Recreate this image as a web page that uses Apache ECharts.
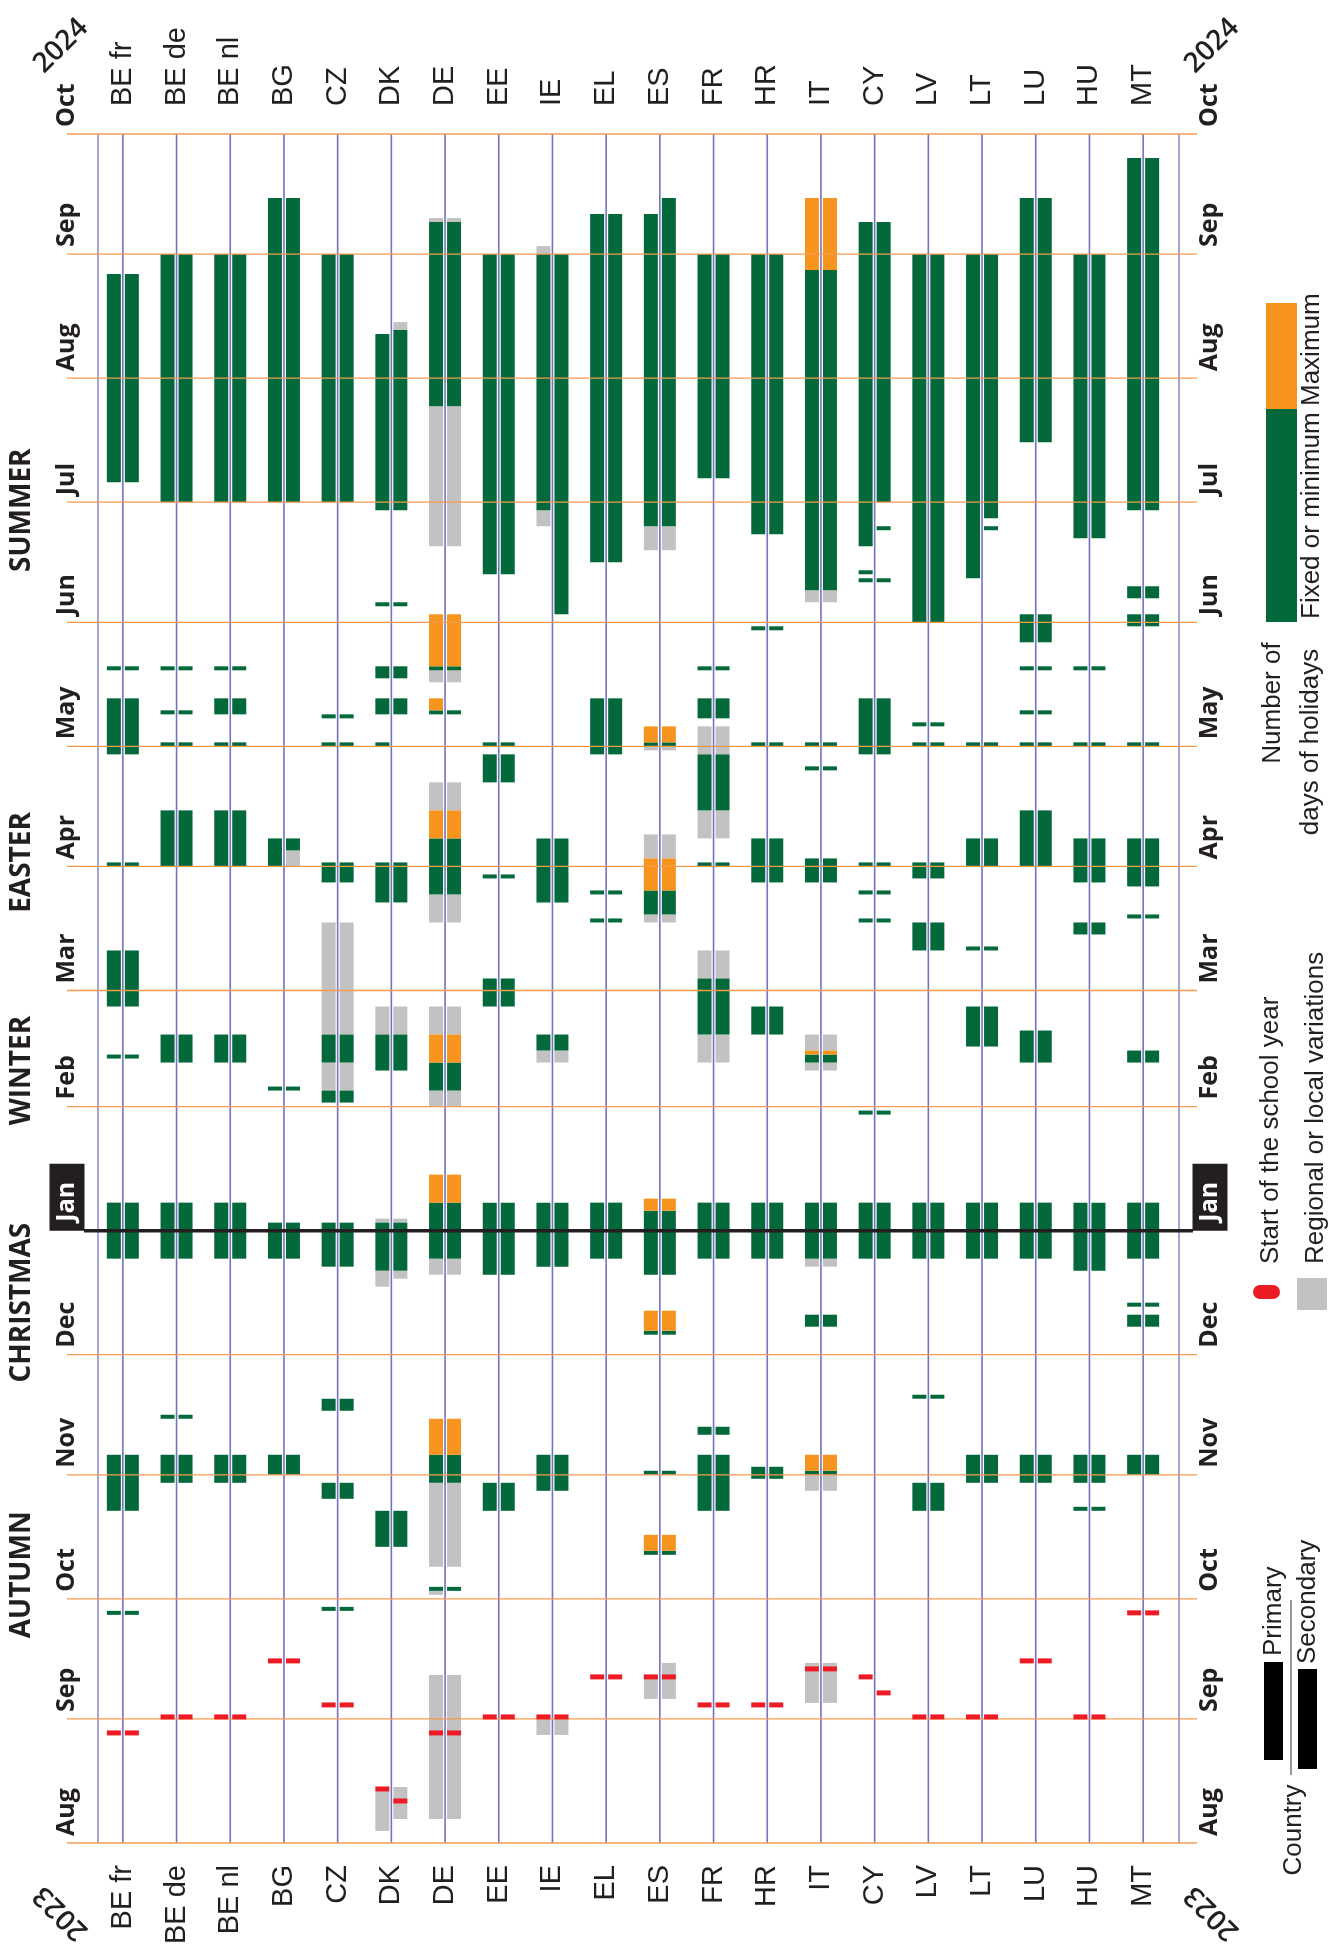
<!DOCTYPE html>
<html><head><meta charset="utf-8">
<script src="https://cdn.jsdelivr.net/npm/echarts@6/dist/echarts.min.js"></script>
<style>html,body{margin:0;padding:0;background:#fff}#chart{width:1341px;height:1948px}</style>
</head><body><div id="chart"></div>
<script>
// ---------- DATA ----------
const countries = ['BE fr','BE de','BE nl','BG','CZ','DK','DE','EE','IE','EL','ES','FR','HR','IT','CY','LV','LT','LU','HU','MT'];
const monthStarts = ['2023-08-01','2023-09-01','2023-10-01','2023-11-01','2023-12-01','2024-01-01','2024-02-01','2024-03-01','2024-04-01','2024-05-01','2024-06-01','2024-07-01','2024-08-01','2024-09-01','2024-10-01'];
const monthLabels = ['Aug','Sep','Oct','Nov','Dec','Jan','Feb','Mar','Apr','May','Jun','Jul','Aug','Sep','Oct'];
const seasonLabels = ['AUTUMN','CHRISTMAS','WINTER','EASTER','SUMMER'];
const seasonCentres = ['2023-10-07','2023-12-14','2024-02-10','2024-04-02','2024-06-29'];
const yearLabels = ['2023','2024'];
const yearDates = ['2023-08-01','2024-10-01'];

// [country, level (P = primary, S = secondary, B = both), first day, last day]
const fixedDays = [
 ['BE fr','B','2023-09-27'],['BE fr','B','2023-10-23','2023-11-05'],['BE fr','B','2023-12-25','2024-01-07'],['BE fr','B','2024-02-13'],['BE fr','B','2024-02-26','2024-03-10'],['BE fr','B','2024-04-01'],['BE fr','B','2024-04-29','2024-05-12'],['BE fr','B','2024-05-20'],['BE fr','B','2024-07-06','2024-08-26'],
 ['BE de','B','2023-10-30','2023-11-05'],['BE de','B','2023-11-15'],['BE de','B','2023-12-25','2024-01-07'],['BE de','B','2024-02-12','2024-02-18'],['BE de','B','2024-04-01','2024-04-14'],['BE de','B','2024-05-01'],['BE de','B','2024-05-09'],['BE de','B','2024-05-20'],['BE de','B','2024-07-01','2024-08-31'],
 ['BE nl','B','2023-10-30','2023-11-05'],['BE nl','B','2023-12-25','2024-01-07'],['BE nl','B','2024-02-12','2024-02-18'],['BE nl','B','2024-04-01','2024-04-14'],['BE nl','B','2024-05-01'],['BE nl','B','2024-05-09','2024-05-12'],['BE nl','B','2024-05-20'],['BE nl','B','2024-07-01','2024-08-31'],
 ['BG','B','2023-11-01','2023-11-05'],['BG','B','2023-12-25','2024-01-02'],['BG','B','2024-02-05'],['BG','P','2024-04-01','2024-04-07'],['BG','S','2024-04-05','2024-04-07'],['BG','B','2024-07-01','2024-09-14'],
 ['CZ','B','2023-09-28'],['CZ','B','2023-10-26','2023-10-29'],['CZ','B','2023-11-17','2023-11-19'],['CZ','B','2023-12-23','2024-01-02'],['CZ','B','2024-02-02','2024-02-04'],['CZ','B','2024-02-12','2024-02-18'],['CZ','B','2024-03-28','2024-04-01'],['CZ','B','2024-05-01'],['CZ','B','2024-05-08'],['CZ','B','2024-07-01','2024-08-31'],
 ['DK','B','2023-10-14','2023-10-22'],['DK','B','2023-12-22','2024-01-02'],['DK','B','2024-02-10','2024-02-18'],['DK','B','2024-03-23','2024-04-01'],['DK','P','2024-05-01'],['DK','B','2024-05-09','2024-05-12'],['DK','B','2024-05-18','2024-05-20'],['DK','B','2024-06-05'],['DK','P','2024-06-29','2024-08-11'],['DK','S','2024-06-29','2024-08-12'],
 ['DE','B','2023-10-03'],['DE','B','2023-10-30','2023-11-05'],['DE','B','2023-12-25','2024-01-07'],['DE','B','2024-02-05','2024-02-11'],['DE','B','2024-03-25','2024-04-07'],['DE','B','2024-05-09'],['DE','B','2024-05-20'],['DE','B','2024-07-25','2024-09-08'],
 ['EE','B','2023-10-23','2023-10-29'],['EE','B','2023-12-21','2024-01-07'],['EE','B','2024-02-26','2024-03-03'],['EE','B','2024-03-29'],['EE','B','2024-04-22','2024-04-28'],['EE','B','2024-05-01'],['EE','B','2024-06-13','2024-08-31'],
 ['IE','B','2023-10-28','2023-11-05'],['IE','B','2023-12-23','2024-01-07'],['IE','B','2024-02-15','2024-02-18'],['IE','B','2024-03-23','2024-04-07'],['IE','P','2024-06-29','2024-08-31'],['IE','S','2024-06-03','2024-08-31'],
 ['EL','B','2023-12-25','2024-01-07'],['EL','B','2024-03-18'],['EL','B','2024-03-25'],['EL','B','2024-04-29','2024-05-12'],['EL','B','2024-06-16','2024-09-10'],
 ['ES','B','2023-10-12'],['ES','B','2023-11-01'],['ES','B','2023-12-06'],['ES','B','2023-12-21','2024-01-05'],['ES','B','2024-03-20','2024-03-25'],['ES','B','2024-05-01'],['ES','P','2024-06-25','2024-09-10'],['ES','S','2024-06-25','2024-09-14'],
 ['FR','B','2023-10-23','2023-11-05'],['FR','B','2023-11-11','2023-11-12'],['FR','B','2023-12-25','2024-01-07'],['FR','B','2024-02-19','2024-03-03'],['FR','B','2024-04-01'],['FR','B','2024-04-15','2024-04-28'],['FR','B','2024-05-08','2024-05-12'],['FR','B','2024-05-20'],['FR','B','2024-07-07','2024-08-31'],
 ['HR','B','2023-10-31','2023-11-02'],['HR','B','2023-12-25','2024-01-07'],['HR','B','2024-02-19','2024-02-25'],['HR','B','2024-03-28','2024-04-07'],['HR','B','2024-05-01'],['HR','B','2024-05-30'],['HR','B','2024-06-23','2024-08-31'],
 ['IT','B','2023-11-01'],['IT','B','2023-12-08','2023-12-10'],['IT','B','2023-12-25','2024-01-07'],['IT','B','2024-02-12','2024-02-13'],['IT','B','2024-03-28','2024-04-02'],['IT','B','2024-04-25'],['IT','B','2024-05-01'],['IT','B','2024-06-09','2024-08-27'],
 ['CY','B','2023-12-25','2024-01-07'],['CY','B','2024-01-30'],['CY','B','2024-03-18'],['CY','B','2024-03-25'],['CY','B','2024-04-01'],['CY','B','2024-04-29','2024-05-12'],['CY','P','2024-06-11'],['CY','P','2024-06-13'],['CY','S','2024-06-11'],['CY','S','2024-06-24'],['CY','P','2024-06-20','2024-09-08'],['CY','S','2024-07-01','2024-09-08'],
 ['LV','B','2023-10-23','2023-10-29'],['LV','B','2023-11-20'],['LV','B','2023-12-25','2024-01-07'],['LV','B','2024-03-11','2024-03-17'],['LV','B','2024-03-29','2024-04-01'],['LV','B','2024-05-01'],['LV','B','2024-05-06'],['LV','B','2024-06-01','2024-08-31'],
 ['LT','B','2023-10-30','2023-11-05'],['LT','B','2023-12-25','2024-01-07'],['LT','B','2024-02-16','2024-02-25'],['LT','B','2024-03-11'],['LT','B','2024-04-01','2024-04-07'],['LT','B','2024-05-01'],['LT','P','2024-06-12','2024-08-31'],['LT','S','2024-06-24'],['LT','S','2024-06-27','2024-08-31'],
 ['LU','B','2023-10-30','2023-11-05'],['LU','B','2023-12-25','2024-01-07'],['LU','B','2024-02-12','2024-02-19'],['LU','B','2024-04-01','2024-04-14'],['LU','B','2024-05-01'],['LU','B','2024-05-09'],['LU','B','2024-05-20'],['LU','B','2024-05-27','2024-06-02'],['LU','B','2024-07-16','2024-09-14'],
 ['HU','B','2023-10-23'],['HU','B','2023-10-30','2023-11-05'],['HU','B','2023-12-22','2024-01-07'],['HU','B','2024-03-15','2024-03-17'],['HU','B','2024-03-28','2024-04-07'],['HU','B','2024-05-01'],['HU','B','2024-05-20'],['HU','B','2024-06-22','2024-08-31'],
 ['MT','B','2023-11-01','2023-11-05'],['MT','B','2023-12-08','2023-12-10'],['MT','B','2023-12-13'],['MT','B','2023-12-25','2024-01-07'],['MT','B','2024-02-12','2024-02-14'],['MT','B','2024-03-19'],['MT','B','2024-03-27','2024-04-07'],['MT','B','2024-05-01'],['MT','B','2024-05-31','2024-06-02'],['MT','B','2024-06-07','2024-06-09'],['MT','B','2024-06-29','2024-09-24']
];
const maximumDays = [
 ['DE','B','2023-11-06','2023-11-14'],['DE','B','2024-01-08','2024-01-14'],['DE','B','2024-02-12','2024-02-18'],['DE','B','2024-04-08','2024-04-14'],['DE','P','2024-05-10','2024-05-12'],['DE','B','2024-05-21','2024-06-02'],
 ['ES','B','2023-10-13','2023-10-16'],['ES','B','2023-12-07','2023-12-11'],['ES','B','2024-01-06','2024-01-08'],['ES','B','2024-03-26','2024-04-02'],['ES','B','2024-05-02','2024-05-05'],
 ['IT','B','2023-11-02','2023-11-05'],['IT','B','2024-02-14'],['IT','B','2024-08-28','2024-09-14']
];
const regionalDays = [
 ['BG','S','2024-04-01','2024-04-04'],
 ['CZ','B','2024-02-05','2024-02-11'],['CZ','B','2024-02-19','2024-03-17'],
 ['DK','P','2023-08-04','2023-08-13'],['DK','S','2023-08-07','2023-08-14'],['DK','P','2023-12-18','2023-12-21'],['DK','S','2023-12-20','2023-12-21'],['DK','B','2024-01-03'],['DK','B','2024-02-19','2024-02-25'],['DK','S','2024-08-13','2024-08-14'],
 ['DE','B','2023-08-07','2023-09-11'],['DE','P','2023-10-02'],['DE','B','2023-10-09','2023-10-29'],['DE','B','2023-12-21','2023-12-24'],['DE','B','2024-02-01','2024-02-04'],['DE','B','2024-02-19','2024-02-25'],['DE','B','2024-03-18','2024-03-24'],['DE','B','2024-04-15','2024-04-21'],['DE','B','2024-05-17','2024-05-19'],['DE','B','2024-06-20','2024-07-24'],['DE','B','2024-09-09'],
 ['IE','B','2023-08-28','2023-09-01'],['IE','B','2024-02-12','2024-02-14'],['IE','P','2024-06-25','2024-06-28'],['IE','P','2024-09-01','2024-09-02'],
 ['ES','P','2023-09-06','2023-09-11'],['ES','S','2023-09-06','2023-09-14'],['ES','B','2024-03-18','2024-03-19'],['ES','B','2024-04-03','2024-04-08'],['ES','B','2024-04-30'],['ES','B','2024-06-19','2024-06-24'],
 ['FR','B','2024-02-12','2024-02-18'],['FR','B','2024-03-04','2024-03-10'],['FR','B','2024-04-08','2024-04-14'],['FR','B','2024-04-29','2024-05-05'],
 ['IT','B','2023-09-05','2023-09-14'],['IT','B','2023-10-28','2023-10-31'],['IT','B','2023-12-23','2023-12-24'],['IT','B','2024-02-10','2024-02-11'],['IT','B','2024-02-15','2024-02-18'],['IT','B','2024-06-06','2024-06-08']
];
// [country, level, first school day]
const schoolStart = [
 ['BE fr','B','2023-08-28'],['BE de','B','2023-09-01'],['BE nl','B','2023-09-01'],['BG','B','2023-09-15'],['CZ','B','2023-09-04'],
 ['DK','P','2023-08-14'],['DK','S','2023-08-11'],['DE','B','2023-08-28'],['EE','B','2023-09-01'],['IE','B','2023-09-01'],
 ['EL','B','2023-09-11'],['ES','B','2023-09-11'],['FR','B','2023-09-04'],['HR','B','2023-09-04'],['IT','B','2023-09-13'],
 ['CY','P','2023-09-11'],['CY','S','2023-09-07'],['LV','B','2023-09-01'],['LT','B','2023-09-01'],['LU','B','2023-09-15'],
 ['HU','B','2023-09-01'],['MT','B','2023-09-27']
];

// ---------- HELPERS ----------
const DAY0 = Date.UTC(2023, 7, 1);
function dayIndex(s){ const p = s.split('-').map(Number); return (Date.UTC(p[0], p[1]-1, p[2]) - DAY0) / 86400000; }
const LAST_DAY = dayIndex('2024-10-01');
const sidesOf = lv => lv === 'B' ? [0, 1] : (lv === 'P' ? [0] : [1]);
function expand(list, kind){
  const out = [];
  list.forEach(r => {
    const d0 = dayIndex(r[2]), d1 = dayIndex(r[3] || r[2]) + 1;
    sidesOf(r[1]).forEach(sd => out.push([countries.indexOf(r[0]), sd, d0, d1, kind]));
  });
  return out;
}
const KIND_COLORS = ['#c2c2c2', '#03693a', '#f7941d'];
const holidayData = [].concat(expand(regionalDays, 0), expand(fixedDays, 1), expand(maximumDays, 2));
const startData = [];
schoolStart.forEach(r => sidesOf(r[1]).forEach(sd => startData.push([countries.indexOf(r[0]), sd, dayIndex(r[2]) + 0.5])));

const TXT = '#231f20';
const ROT = Math.PI / 2;
const MONTH_FONT = 'bold 25px "Open Sans", sans-serif';
const YEAR_FONT = '600 28px "Open Sans", sans-serif';
const LEGEND_FONT = '26px "Liberation Sans", sans-serif';

function barRect(cx, side, yTop, yBot, color){
  return { type: 'rect', shape: { x: side === 0 ? cx - 16 : cx + 2, y: yTop, width: 14, height: Math.max(yBot - yTop, 1) },
           style: { fill: color } };
}

const chart = echarts.init(document.getElementById('chart'), null, { renderer: 'canvas' });
const axisLabelBase = { rotate: 90, fontSize: 29, fontFamily: '"Liberation Sans", Arial, sans-serif', color: TXT, interval: 0 };

chart.setOption({
  animation: false,
  backgroundColor: '#ffffff',
  grid: { left: 96, top: 134, width: 1074, height: 1709, containLabel: false },
  xAxis: [
    { type: 'category', data: countries, position: 'top', axisLine: { show: false }, axisTick: { show: false }, splitLine: { show: false },
      axisLabel: Object.assign({ margin: 28 }, axisLabelBase) },
    { type: 'category', data: countries, position: 'bottom', axisLine: { show: false }, axisTick: { show: false }, splitLine: { show: false },
      axisLabel: Object.assign({ margin: 22 }, axisLabelBase) }
  ],
  yAxis: { type: 'value', min: 0, max: LAST_DAY, show: false },
  series: [
    { // country guide lines and frame lines
      type: 'custom', silent: true, z: 1,
      data: countries.map((c, i) => [i, 0]), encode: { x: 0, y: 1 },
      renderItem: function (params, api) {
        const top = api.coord([api.value(0), LAST_DAY]);
        const bot = api.coord([api.value(0), 0]);
        const cs = params.coordSys;
        const children = [{ type: 'line', shape: { x1: top[0], y1: top[1], x2: bot[0], y2: bot[1] }, style: { stroke: '#7373bf', lineWidth: 1.6 } }];
        if (params.dataIndex === 0) {
          children.push({ type: 'line', shape: { x1: cs.x + 2, y1: top[1], x2: cs.x + 2, y2: bot[1] }, style: { stroke: '#8f8fcc', lineWidth: 1.6 } });
          children.push({ type: 'line', shape: { x1: cs.x + cs.width + 9, y1: top[1], x2: cs.x + cs.width + 9, y2: bot[1] }, style: { stroke: '#8f8fcc', lineWidth: 1.6 } });
        }
        return { type: 'group', children: children };
      }
    },
    { // holiday bars
      type: 'custom', silent: true, z: 2,
      data: holidayData, encode: { x: 0, y: [2, 3] },
      renderItem: function (params, api) {
        const a = api.coord([api.value(0), api.value(3)]);
        const b = api.coord([api.value(0), api.value(2)]);
        return barRect(a[0], api.value(1), a[1], b[1], KIND_COLORS[api.value(4)]);
      }
    },
    { // month lines
      type: 'custom', silent: true, z: 3,
      data: monthStarts.map((m, i) => [0, dayIndex(m), i]), encode: { x: 0, y: 1 },
      renderItem: function (params, api) {
        const cs = params.coordSys;
        const y = api.coord([0, api.value(1)])[1];
        if (monthLabels[api.value(2)] === 'Jan') {
          return { type: 'line', shape: { x1: cs.x - 12, y1: y, x2: cs.x + cs.width + 23, y2: y }, style: { stroke: TXT, lineWidth: 3.5 } };
        }
        return { type: 'line', shape: { x1: cs.x - 29, y1: y, x2: cs.x + cs.width + 27, y2: y }, style: { stroke: '#f59b50', lineWidth: 1.3 } };
      }
    },
    { // start of school year markers
      type: 'custom', silent: true, z: 4,
      data: startData, encode: { x: 0, y: 2 },
      renderItem: function (params, api) {
        const p = api.coord([api.value(0), api.value(2)]);
        return barRect(p[0], api.value(1), p[1] - 2.5, p[1] + 2.5, '#ed1c24');
      }
    },
    { // month labels on both sides
      type: 'custom', silent: true, z: 5,
      data: monthStarts.map((m, i) => [0, dayIndex(m), i]), encode: { x: 0, y: 1 },
      renderItem: function (params, api) {
        const cs = params.coordSys;
        const y = api.coord([0, api.value(1)])[1];
        const label = monthLabels[api.value(2)];
        const xs = [cs.x - 29, cs.x + cs.width + 40];
        return { type: 'group', children: xs.map(x => {
          if (label === 'Jan') {
            return { type: 'text', x: x, y: y, rotation: ROT,
              style: { text: label, font: MONTH_FONT, fill: '#ffffff', backgroundColor: TXT, padding: [3, 18, 3, 9], lineHeight: 29, align: 'left', verticalAlign: 'middle' } };
          }
          return { type: 'text', x: x, y: y - 7, rotation: ROT,
            style: { text: label, font: MONTH_FONT, fill: TXT, align: 'left', verticalAlign: 'middle' } };
        }) };
      }
    },
    { // season labels
      type: 'custom', silent: true, z: 5,
      data: seasonLabels.map((s, i) => [0, dayIndex(seasonCentres[i]), i]), encode: { x: 0, y: 1 },
      renderItem: function (params, api) {
        const cs = params.coordSys;
        const y = api.coord([0, api.value(1)])[1];
        return { type: 'text', x: cs.x - 74, y: y, rotation: ROT,
          style: { text: seasonLabels[api.value(2)], font: 'bold 28px "Open Sans", sans-serif', fill: TXT, align: 'center', verticalAlign: 'middle' } };
      }
    },
    { // year labels in the corners
      type: 'custom', silent: true, z: 5,
      data: yearLabels.map((s, i) => [0, dayIndex(yearDates[i]), i]), encode: { x: 0, y: 1 },
      renderItem: function (params, api) {
        const cs = params.coordSys;
        const y = api.coord([0, api.value(1)])[1];
        const top = api.value(2) === 1;
        const dy = top ? -88 : 70;
        const rot = top ? Math.PI / 4 : 3 * Math.PI / 4;
        return { type: 'group', children: [cs.x - 35, cs.x + cs.width + 42].map(x => ({
          type: 'text', x: x, y: y + dy, rotation: rot,
          style: { text: yearLabels[api.value(2)], font: YEAR_FONT, fill: TXT, align: 'center', verticalAlign: 'middle' } })) };
      }
    }
  ],
  graphic: [
    { type: 'rect', shape: { x: 1266, y: 303, width: 31, height: 106 }, style: { fill: '#f7941d' } },
    { type: 'rect', shape: { x: 1266, y: 409, width: 31, height: 213 }, style: { fill: '#03693a' } },
    { type: 'text', x: 1312, y: 406, rotation: ROT, style: { text: 'Maximum', font: LEGEND_FONT, fill: TXT, align: 'left', verticalAlign: 'middle' } },
    { type: 'text', x: 1312, y: 619, rotation: ROT, style: { text: 'Fixed or minimum', font: LEGEND_FONT, fill: TXT, align: 'left', verticalAlign: 'middle' } },
    { type: 'text', x: 1273, y: 703, rotation: ROT, style: { text: 'Number of', font: LEGEND_FONT, fill: TXT, align: 'center', verticalAlign: 'middle' } },
    { type: 'text', x: 1311, y: 742, rotation: ROT, style: { text: 'days of holidays', font: LEGEND_FONT, fill: TXT, align: 'center', verticalAlign: 'middle' } },
    { type: 'rect', shape: { x: 1253, y: 1285, width: 27, height: 14, r: 7 }, style: { fill: '#ed1c24' } },
    { type: 'text', x: 1271, y: 1264, rotation: ROT, style: { text: 'Start of the school year', font: LEGEND_FONT, fill: TXT, align: 'left', verticalAlign: 'middle' } },
    { type: 'rect', shape: { x: 1297, y: 1278, width: 30, height: 32 }, style: { fill: '#c2c2c2' } },
    { type: 'text', x: 1316, y: 1264, rotation: ROT, style: { text: 'Regional or local variations', font: LEGEND_FONT, fill: TXT, align: 'left', verticalAlign: 'middle' } },
    { type: 'rect', shape: { x: 1264, y: 1662, width: 19, height: 98 }, style: { fill: '#000000' } },
    { type: 'rect', shape: { x: 1298, y: 1669, width: 19, height: 100 }, style: { fill: '#000000' } },
    { type: 'line', shape: { x1: 1291, y1: 1600, x2: 1291, y2: 1775 }, style: { stroke: '#777777', lineWidth: 1.5 } },
    { type: 'text', x: 1274, y: 1656, rotation: ROT, style: { text: 'Primary', font: LEGEND_FONT, fill: TXT, align: 'left', verticalAlign: 'middle' } },
    { type: 'text', x: 1308, y: 1664, rotation: ROT, style: { text: 'Secondary', font: LEGEND_FONT, fill: TXT, align: 'left', verticalAlign: 'middle' } },
    { type: 'text', x: 1294, y: 1830, rotation: ROT, style: { text: 'Country', font: LEGEND_FONT, fill: TXT, align: 'center', verticalAlign: 'middle' } }
  ]
});
</script>
</body></html>
